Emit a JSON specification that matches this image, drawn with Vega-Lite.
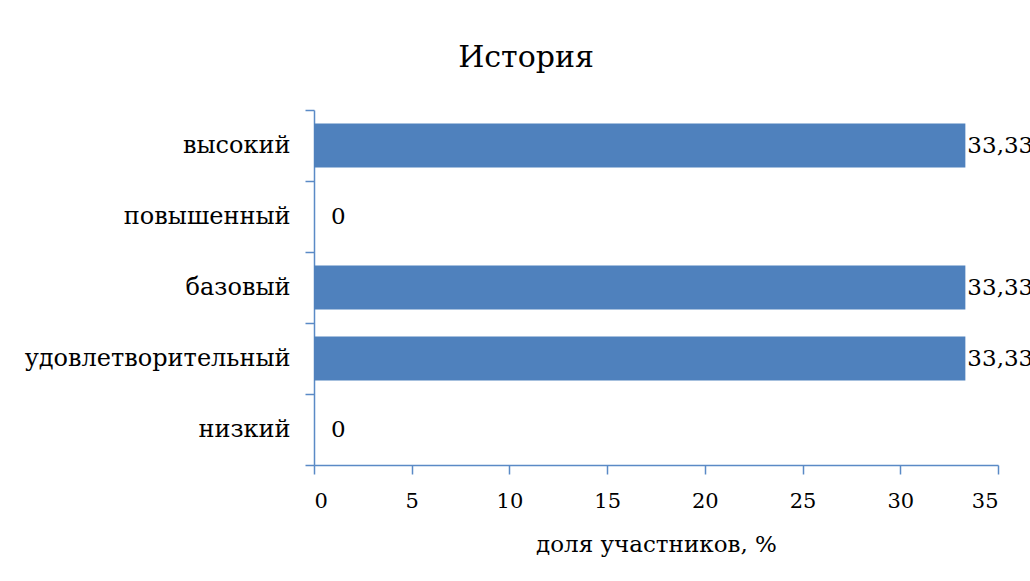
{
  "$schema": "https://vega.github.io/schema/vega-lite/v6.json",
  "autosize": "none",
  "width": 684,
  "height": 355,
  "padding": {"left": 314, "top": 110, "right": 32, "bottom": 116},
  "background": "white",
  "config": {"view": {"stroke": null}, "font": "DejaVu Serif"},
  "title": {"text": "История", "font": "DejaVu Serif", "fontSize": 30, "fontWeight": "normal", "color": "#000000", "anchor": "middle", "dx": -130, "offset": 25},
  "data": {"values": [
    {"level": "высокий", "value": 33.33, "label": "33,33"},
    {"level": "повышенный", "value": 0, "label": "0"},
    {"level": "базовый", "value": 33.33, "label": "33,33"},
    {"level": "удовлетворительный", "value": 33.33, "label": "33,33"},
    {"level": "низкий", "value": 0, "label": "0"}
  ]},
  "encoding": {
    "y": {"field": "level", "type": "nominal", "sort": null,
      "scale": {"paddingInner": 0, "paddingOuter": 0},
      "axis": {"title": null, "tickBand": "extent", "domainColor": "#5A8AC6", "tickColor": "#5A8AC6", "domainWidth": 1.5, "tickWidth": 1.5, "tickSize": 9, "labelPadding": 15, "labelLimit": 400, "labelFont": "DejaVu Serif", "labelFontSize": 24, "labelColor": "#000000"}},
    "x": {"field": "value", "type": "quantitative",
      "scale": {"domain": [0, 35], "nice": false},
      "axis": {"values": [0, 5, 10, 15, 20, 25, 30, 35], "grid": false, "title": "доля участников, %", "titleFont": "DejaVu Serif", "titleFontSize": 23, "titleFontWeight": "normal", "titleColor": "#000000", "titlePadding": 22, "domainColor": "#5A8AC6", "tickColor": "#5A8AC6", "domainWidth": 1.5, "tickWidth": 1.5, "tickSize": 9, "labelPadding": 16, "labelFont": "DejaVu Serif", "labelFontSize": 21, "labelColor": "#000000"}}
  },
  "layer": [
    {"mark": {"type": "bar", "color": "#4F81BD", "height": {"band": 0.62}}},
    {"transform": [{"filter": "datum.value > 0"}],
     "mark": {"type": "text", "align": "left", "baseline": "middle", "dx": 2, "fontSize": 23, "font": "DejaVu Serif", "color": "#000000"},
     "encoding": {"text": {"field": "label"}}},
    {"transform": [{"filter": "datum.value == 0"}],
     "mark": {"type": "text", "align": "left", "baseline": "middle", "dx": 17, "fontSize": 23, "font": "DejaVu Serif", "color": "#000000"},
     "encoding": {"text": {"field": "label"}}}
  ]
}
